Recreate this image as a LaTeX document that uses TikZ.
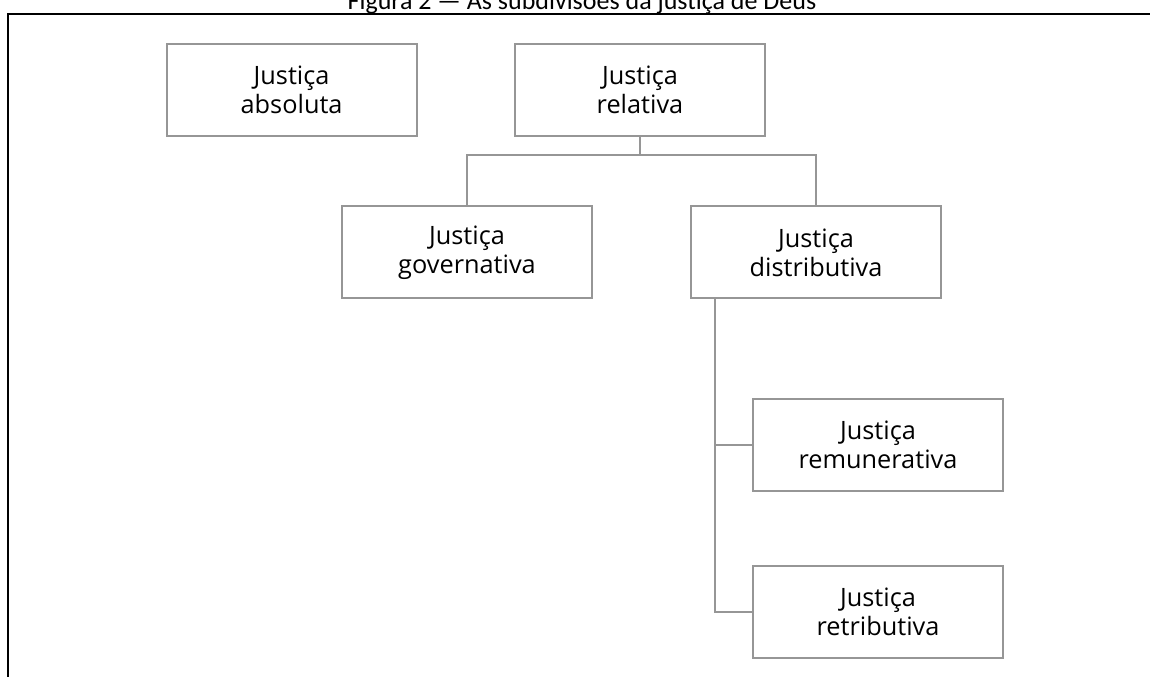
\documentclass[tikz,border=0pt]{standalone}
\usepackage{fontspec}
\setmainfont{Open Sans}
\newfontfamily\captionfont{Carlito}
\usetikzlibrary{positioning,calc}
\definecolor{divInk}{HTML}{000000}
\definecolor{divLine}{HTML}{969696}
\tikzset{
  div/base/.style={draw=divLine, line width=1.5pt, align=center,
    font=\fontsize{18}{20.6}\selectfont, inner sep=0pt},
  div/box/.style={div/base, minimum width=6.25cm, minimum height=2.3cm},
  div/conn/.style={draw=divLine, line width=1.5pt},
  div/frame/.style={draw=divInk, line width=1.1pt},
  div/caption/.style={font=\captionfont\fontsize{18.5}{21}\selectfont,
    text=divInk, anchor=base},
}

\begin{document}
\begin{tikzpicture}
\useasboundingbox (0,0) rectangle (28.75,-16.925);

% ===== Caption and frame =====
\node[div/caption] (cap) at (14.55,-0.24) {Figura 2 — As subdivisões da justiça de Deus};
\coordinate (fr_bl) at (0.2,-17.2);
\coordinate (fr_tl) at (0.2,-0.35);
\coordinate (fr_tr) at (29.0,-0.35);
\draw[div/frame] (fr_bl) -- (fr_tl) -- (fr_tr);

% ===== Top row =====
\node[div/box] (abs) at (7.29,-2.24)  {Justiça\\absoluta};
\node[div/box] (rel) at (16.0,-2.24)  {Justiça\\relativa};

% ===== Second row =====
\node[div/box] (gov)  at (11.675,-6.31) {Justiça\\governativa};
\node[div/box] (dist) at (20.4,-6.31)   {Justiça\\distributiva};

% ===== Branches of the distributive justice =====
\node[div/box] (rem) at (21.95,-11.125) {Justiça\\remunerativa};
\node[div/box] (ret) at (21.95,-15.3)   {Justiça\\retributiva};

% Connectors
\coordinate (bus) at (16.0,-3.875);
\draw[div/conn] (rel.south) -- (bus);
\draw[div/conn] (gov.north) |- (bus) -| (dist.north);

\coordinate (trunk) at ([xshift=0.625cm]dist.south west);
\draw[div/conn] (trunk) |- (rem.west);
\draw[div/conn] (trunk) |- (ret.west);

\end{tikzpicture}
\end{document}
